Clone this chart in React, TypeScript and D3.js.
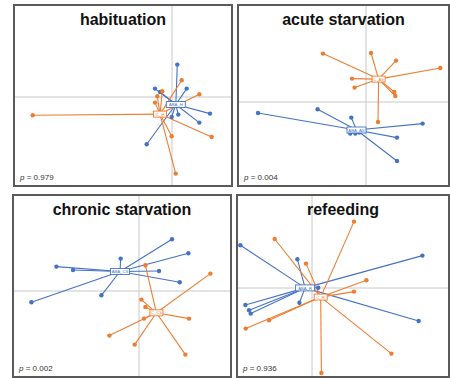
import { useEffect, useRef } from "react";
import * as d3 from "d3";

// panel titles and permutation p values
const panelTitles = ["habituation", "acute starvation", "chronic starvation", "refeeding"];
const pValues = ["0.979", "0.004", "0.002", "0.936"];
const blueLabels = ["ABA_H", "ABA_AS", "ABA_CS", "ABA_R"];
const orangeLabels = ["C_H", "C_AS", "C_CS", "C_R"];

// axis extents per panel (PC1 / PC2 units)
const xDomains = [[-15.8, 6.0], [-12.8, 8.3], [-12.6, 9.2], [-7.5, 13.7]];
const yDomains = [[-8.9, 9.2], [-8.4, 9.7], [-8.6, 9.6], [-8.9, 9.3]];

// group centroids
const blueCentroids = [[0.38, -0.75], [-0.95, -2.8], [-1.9, 1.95], [-0.69, 0.01]];
const orangeCentroids = [[-1.2, -1.71], [1.26, 2.29], [1.74, -2.18], [0.87, -0.91]];

// individual samples
const bluePoints = [
    [[0.53, 3.24], [-1.7, 0.84], [-1.2, 0.5], [1.47, 0.84], [0.63, -1.76], [-0.03, -2.0], [3.8, -1.66], [2.73, -2.56], [-2.53, -4.73]],
    [[-10.8, -1.1], [-4.84, -0.73], [-1.47, -1.56], [5.66, -2.16], [-1.57, -3.16], [-1.07, -3.16], [-0.67, -3.06], [3.1, -3.56], [3.1, -5.9]],
    [[3.3, 5.17], [4.94, 3.77], [-8.26, 2.44], [-6.6, 2.1], [-1.83, 3.24], [2.0, 2.0], [4.07, 0.87], [-3.76, -0.43], [-10.76, -1.13]],
    [[-7.16, 4.27], [-1.46, 2.87], [0.62, 0.02], [-1.26, -1.48], [-6.66, -1.7], [-6.3, -2.23], [-6.13, -2.56], [11.04, 3.24], [10.67, -3.3]],
];
const orangePoints = [
    [[0.97, 1.67], [2.73, 0.27], [-0.97, 0.57], [-1.47, 0.07], [-1.7, -0.56], [-13.93, -1.83], [-0.03, -3.93], [3.97, -4.0], [0.37, -7.66]],
    [[-4.3, 4.84], [0.5, 4.9], [3.0, 4.14], [7.43, 3.4], [-1.4, 2.34], [-1.14, 1.44], [2.83, 1.0], [2.93, 0.6], [1.2, -2.0]],
    [[0.64, 2.57], [7.14, 1.74], [0.24, -0.86], [0.64, -1.6], [0.5, -2.76], [5.0, -2.76], [-2.96, -4.46], [-0.43, -5.36], [4.64, -6.36]],
    [[4.2, 6.64], [-3.73, 4.9], [-0.6, 2.44], [5.44, 0.77], [4.2, -0.36], [-4.3, -3.23], [-6.63, -4.06], [7.94, -6.56], [0.94, -8.5]],
];

const BLUE = "#4472c4";
const ORANGE = "#ed7d31";

export default function App() {
    const ref = useRef<HTMLDivElement>(null);

    useEffect(() => {
        const width = 450;
        const height = 378;
        // panel boxes: left, top, right, bottom
        const boxes = [
            [14, 5, 232, 186],
            [238, 5, 449, 186],
            [13, 195, 231, 377],
            [237, 195, 449, 377],
        ];

        const svg = d3.select(ref.current)
            .append("svg")
                .attr("width", width)
                .attr("height", height)
                .style("display", "block")
                .style("font-family", "'Liberation Sans', Arial, sans-serif");

        svg.append("rect")
            .attr("width", width)
            .attr("height", height)
            .attr("fill", "white");

        boxes.forEach((b, i) => {
            const [l, t, r, bt] = b;
            const x = d3.scaleLinear().domain(xDomains[i]).range([l, r]);
            const y = d3.scaleLinear().domain(yDomains[i]).range([bt, t]);
            const g = svg.append("g");

            g.append("rect")
                .attr("x", l).attr("y", t)
                .attr("width", r - l).attr("height", bt - t)
                .attr("fill", "white");

            // zero axes
            g.append("line")
                .attr("x1", x(0)).attr("x2", x(0))
                .attr("y1", t).attr("y2", bt)
                .attr("stroke", "#c8c8c8").attr("stroke-width", 1);
            g.append("line")
                .attr("x1", l).attr("x2", r)
                .attr("y1", y(0)).attr("y2", y(0))
                .attr("stroke", "#c8c8c8").attr("stroke-width", 1);

            const groups = [
                { c: blueCentroids[i], pts: bluePoints[i], color: BLUE, label: blueLabels[i], w: 19 },
                { c: orangeCentroids[i], pts: orangePoints[i], color: ORANGE, label: orangeLabels[i], w: 13 },
            ];

            groups.forEach((grp) => {
                g.selectAll(null)
                    .data(grp.pts)
                    .enter()
                    .append("line")
                        .attr("x1", x(grp.c[0]))
                        .attr("y1", y(grp.c[1]))
                        .attr("x2", (d) => x(d[0]))
                        .attr("y2", (d) => y(d[1]))
                        .attr("stroke", grp.color)
                        .attr("stroke-width", 1.1);
            });

            groups.forEach((grp) => {
                g.selectAll(null)
                    .data(grp.pts)
                    .enter()
                    .append("circle")
                        .attr("cx", (d) => x(d[0]))
                        .attr("cy", (d) => y(d[1]))
                        .attr("r", 2.2)
                        .attr("fill", grp.color);
            });

            groups.forEach((grp) => {
                const cx = x(grp.c[0]);
                const cy = y(grp.c[1]);
                g.append("rect")
                    .attr("x", cx - grp.w / 2).attr("y", cy - 3)
                    .attr("width", grp.w).attr("height", 6)
                    .attr("fill", "white")
                    .attr("stroke", grp.color)
                    .attr("stroke-width", 0.9);
                g.append("text")
                    .attr("x", cx).attr("y", cy + 1.6)
                    .attr("text-anchor", "middle")
                    .attr("font-size", 4.2)
                    .attr("fill", grp.color)
                    .text(grp.label);
            });

            // border
            g.append("rect")
                .attr("x", l).attr("y", t)
                .attr("width", r - l).attr("height", bt - t)
                .attr("fill", "none")
                .attr("stroke", "#5a5a5a")
                .attr("stroke-width", 2);

            g.append("text")
                .attr("x", (l + r) / 2)
                .attr("y", t + 20)
                .attr("text-anchor", "middle")
                .attr("font-size", 16)
                .attr("font-weight", "bold")
                .attr("fill", "#111")
                .text(panelTitles[i]);

            const p = g.append("text")
                .attr("x", l + 6)
                .attr("y", bt - 6)
                .attr("font-size", 8)
                .attr("fill", "#333");
            p.append("tspan").attr("font-style", "italic").text("p");
            p.append("tspan").text(" = " + pValues[i]);
        });

        return () => {
            d3.select(ref.current).selectAll("*").remove();
        };
    }, [ref]);

    return (
        <div ref={ref} style={{ position: "absolute", left: 0, top: 0 }} />
    );
}
